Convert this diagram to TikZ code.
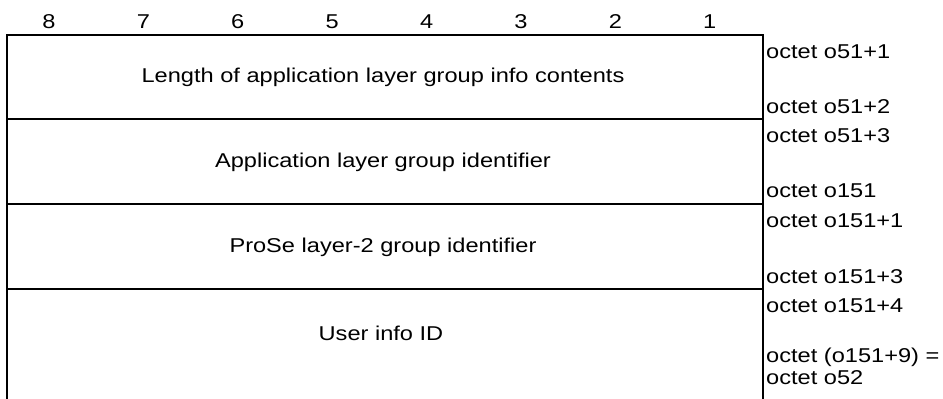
\documentclass[tikz,border=0pt]{standalone}
\usepackage{fontspec}
\setmainfont[FakeStretch=1.18]{Liberation Sans}
\usepackage{tikz}
\tikzstyle{frame} = [line width=1.8pt, line cap=rect]
\tikzstyle{field} = [inner sep=0pt, font=\fontsize{20}{23}\selectfont]
\tikzstyle{octet} = [field, anchor=west]

\begin{document}
\begin{tikzpicture}[x=1pt, y=-1pt]
  \useasboundingbox (0,0) rectangle (943,399);

  % Bit numbers above the fields
  \foreach \b [count=\i] in {8,7,6,5,4,3,2,1}
    \node[field] (bit\b) at ({49+(\i-1)*94.4},22) {\b};

  % Outer frame (open at the bottom) and row separators
  \draw[frame] (7,399) -- (7,35) -- (763,35) -- (763,399);
  \draw[frame] (7,119) -- (763,119);
  \draw[frame] (7,204) -- (763,204);
  \draw[frame] (7,289) -- (763,289);

  % Field contents
  \node[field] (len)   at (383,77)  {Length of application layer group info contents};
  \node[field] (appid) at (383,162) {Application layer group identifier};
  \node[field] (l2id)  at (383,247) {ProSe layer-2 group identifier};
  \node[field] (uid)   at (381,333) {User info ID};

  % Octet numbers on the right
  \node[octet] (o1) at (766,52)  {octet o51+1};
  \node[octet] (o2) at (766,107) {octet o51+2};
  \node[octet] (o3) at (766,136) {octet o51+3};
  \node[octet] (o4) at (766,191) {octet o151};
  \node[octet] (o5) at (766,221) {octet o151+1};
  \node[octet] (o6) at (766,277) {octet o151+3};
  \node[octet] (o7) at (766,306) {octet o151+4};
  \node[octet] (o8) at (766,357) {octet (o151+9) =};
  \node[octet] (o9) at (766,378) {octet o52};

\end{tikzpicture}
\end{document}
